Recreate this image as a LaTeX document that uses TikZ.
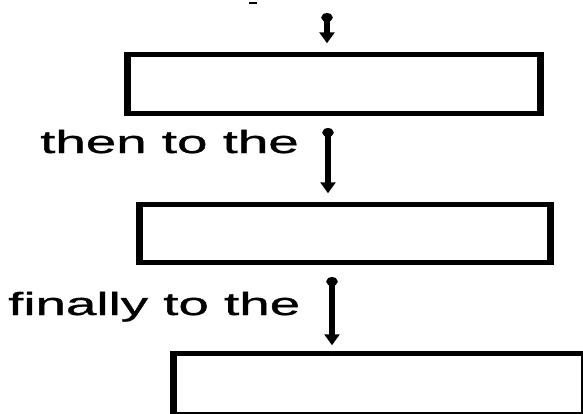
\documentclass[tikz,border=0pt]{standalone}
\usepackage{fontspec}
\setmainfont{Liberation Sans}
\newfontfamily\lblfont[FakeBold=0.8]{Liberation Sans}
\usetikzlibrary{arrows.meta}
\begin{document}
\begin{tikzpicture}[x=1pt,y=-1pt,
  boxstyle/.style={draw=black,line width=4.5pt,rectangle,inner sep=0pt,outer sep=0pt,fill=white},
  sidestyle/.style={line width=7pt,shorten <=-2.25pt,shorten >=-2.25pt},
  flow/.style={line width=5.5pt,{Circle[length=9pt,width=11pt]}-{Triangle[width=15pt,length=11pt]}},
  lbl/.style={inner sep=0pt,anchor=base west,font=\fontsize{32}{38}\lblfont}]
\useasboundingbox (0,0) rectangle (583,413);
\clip (0,0) rectangle (583,413);
\node[boxstyle,minimum width=413pt,minimum height=59pt] (box1) at (334,84) {};
\node[boxstyle,minimum width=411pt,minimum height=58pt] (box2) at (345,233.5) {};
\node[boxstyle,minimum width=410.5pt,minimum height=60.5pt] (box3) at (378.75,383.75) {};
\foreach \b in {box1,box2,box3}{
  \draw[sidestyle] (\b.north west) -- (\b.south west);
  \draw[sidestyle] (\b.north east) -- (\b.south east);
}
\coordinate (s1) at (327,13);
\coordinate (s2) at (328,128);
\coordinate (s3) at (332,277);
\draw[flow,shorten >=11.25pt] (s1) -- (s1 |- box1.north);
\draw[flow,shorten >=11.25pt] (s2) -- (s2 |- box2.north);
\draw[flow,shorten >=8.25pt] (s3) -- (s3 |- box3.north);
\node[lbl] (t1) at (40,153) {\scalebox{1.71}[1]{then to the}};
\node[lbl] (t2) at (8,315) {\scalebox{1.71}[1]{finally to the}};
\draw[line width=1.5pt] (249,3) -- (257,3);
\end{tikzpicture}
\end{document}
